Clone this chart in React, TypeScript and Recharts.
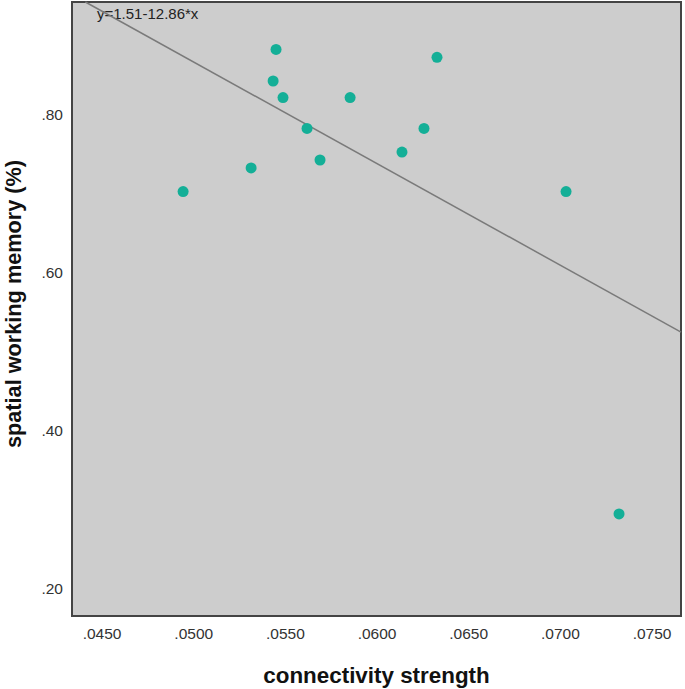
import {
  CartesianGrid,
  Label,
  ReferenceArea,
  ReferenceLine,
  Scatter,
  ScatterChart,
  XAxis,
  YAxis
} from "recharts";

// connectivity strength (x) vs spatial working memory (y)
const connectivity = [
  0.04942, 0.05313, 0.05449, 0.05433, 0.05487, 0.05618, 0.05689,
  0.05853, 0.06136, 0.06256, 0.06327, 0.07031, 0.0732
];
const memory = [0.703, 0.733, 0.883, 0.843, 0.822, 0.783, 0.743, 0.822, 0.753, 0.783, 0.873, 0.703, 0.295];

const xTicks = [0.045, 0.05, 0.055, 0.06, 0.065, 0.07, 0.075];
const yTicks = [0.2, 0.4, 0.6, 0.8];

const fitIntercept = 1.51;
const fitSlope = -12.86;

const xDomain: [number, number] = [0.04336, 0.07658];
const yDomain: [number, number] = [0.1658, 0.943];

const points = connectivity.map((x, i) => ({ x, y: memory[i] }));

// regression line, clipped to the plot box
const fitAt = (x: number) => fitIntercept + fitSlope * x;
let lineStartX = xDomain[0];
if (fitAt(lineStartX) > yDomain[1]) lineStartX = (yDomain[1] - fitIntercept) / fitSlope;
const fitSegment = [
  { x: lineStartX, y: fitAt(lineStartX) },
  { x: xDomain[1], y: fitAt(xDomain[1]) }
];

const font = '"Liberation Sans", Arial, sans-serif';
const tickStyle = { fill: "#333", fontSize: 15.5, fontFamily: font };
const dropZero = (v: number, digits: number) => v.toFixed(digits).replace(/^0/, "");

const Dot = (props: any) => (
  <circle cx={props.cx} cy={props.cy} r={5.5} fill="#14af97" />
);

const App = () => {
  return (
    <div style={{ position: "absolute", left: 0, top: 0 }}>
      <ScatterChart
        width={685}
        height={689}
        margin={{ top: 2, right: 4, left: 0, bottom: 0 }}
      >
        <CartesianGrid fill="#cdcdcd" horizontal={false} vertical={false} />
        <XAxis
          type="number"
          dataKey="x"
          domain={xDomain}
          ticks={xTicks}
          allowDataOverflow
          axisLine={false}
          tickLine={false}
          tickSize={0}
          tickMargin={12}
          height={73}
          tick={tickStyle}
          tickFormatter={(v: number) => dropZero(v, 4)}
        >
          <Label
            value="connectivity strength"
            position="insideBottom"
            offset={6}
            style={{ fill: "#111", fontSize: 22.4, fontWeight: 700, fontFamily: font }}
          />
        </XAxis>
        <YAxis
          type="number"
          dataKey="y"
          domain={yDomain}
          ticks={yTicks}
          allowDataOverflow
          axisLine={false}
          tickLine={false}
          tickSize={0}
          tickMargin={9}
          width={72}
          tick={tickStyle}
          tickFormatter={(v: number) => dropZero(v, 2)}
        >
          <Label
            content={({ viewBox }: any) => {
              const cy = viewBox.y + viewBox.height / 2 - 5;
              return (
                <text
                  x={13}
                  y={cy}
                  transform={`rotate(-90, 13, ${cy})`}
                  textAnchor="middle"
                  dominantBaseline="central"
                  style={{ fill: "#111", fontSize: 21.7, fontWeight: 700, fontFamily: font }}
                >
                  spatial working memory (%)
                </text>
              );
            }}
          />
        </YAxis>
        <ReferenceLine
          segment={fitSegment}
          stroke="#7a7a7a"
          strokeWidth={1.5}
          ifOverflow="visible"
        />
        <Scatter data={points} shape={Dot} isAnimationActive={false} />
        <ReferenceArea
          x1={xDomain[0]}
          x2={xDomain[1]}
          y1={yDomain[0]}
          y2={yDomain[1]}
          fill="none"
          stroke="#444"
          strokeWidth={2}
          ifOverflow="visible"
        >
          <Label
            content={({ viewBox }: any) => (
              <text
                x={viewBox.x + 25}
                y={viewBox.y + 17}
                style={{ fill: "#222", fontSize: 15, fontFamily: font }}
              >
                {`y=${fitIntercept}${fitSlope}*x`}
              </text>
            )}
          />
        </ReferenceArea>
      </ScatterChart>
    </div>
  );
};

export default App;
